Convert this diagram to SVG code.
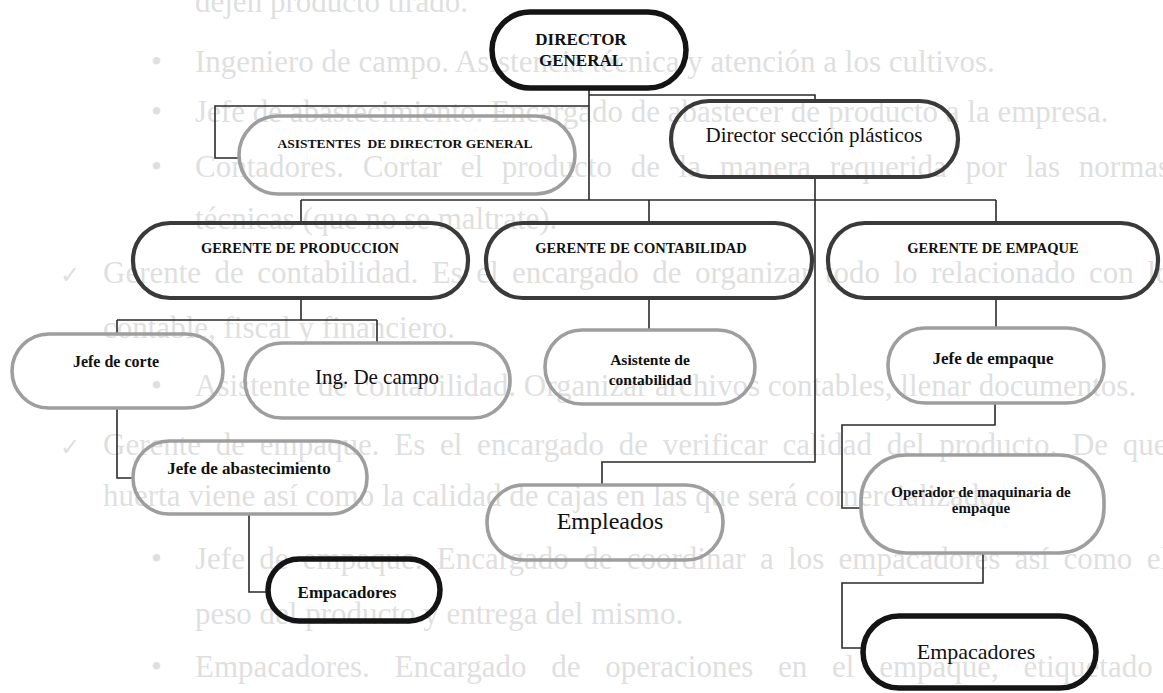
<svg xmlns="http://www.w3.org/2000/svg" width="1163" height="693" viewBox="0 0 1163 693">
<style>
.bg{font-family:"Liberation Serif","Times New Roman",serif;font-size:31px;fill:#dfdfdf}
.ck{font-family:"DejaVu Sans",sans-serif;font-size:24px;fill:#dfdfdf}
.lbl{font-family:"Liberation Serif","Times New Roman",serif;fill:#111;text-anchor:middle}
.b{font-weight:bold}
.thick{fill:none;stroke:#141414;stroke-width:5.5}
.mid{fill:none;stroke:#3a3a3a;stroke-width:4.2}
.light{fill:none;stroke:#9e9e9e;stroke-width:3.6}
#connectors path{fill:none;stroke:#2a2a2a;stroke-width:1.6}
</style>
<rect width="1163" height="693" fill="#ffffff"/>
<g id="background-text">
<text class="bg" x="195" y="12">dejen producto tirado.</text>
<text class="bg" x="151" y="72">•</text><text class="bg" x="195" y="72">Ingeniero de campo. Asistencia técnica y atención a los cultivos.</text>
<text class="bg" x="151" y="122">•</text><text class="bg" x="195" y="122">Jefe de abastecimiento. Encargado de abastecer de producto a la empresa.</text>
<text class="bg" x="151" y="177">•</text><text class="bg" x="195" y="177" word-spacing="11">Contadores. Cortar el producto de la manera requerida por las normas</text>
<text class="bg" x="195" y="229">técnicas (que no se maltrate).</text>
<text class="ck" x="60" y="283">✓</text><text class="bg" x="103" y="283" word-spacing="5.7">Gerente de contabilidad. Es el encargado de organizar todo lo relacionado con lo</text>
<text class="bg" x="103" y="338">contable, fiscal y financiero.</text>
<text class="bg" x="151" y="396">•</text><text class="bg" x="195" y="396">Asistente de contabilidad. Organizar archivos contables, llenar documentos.</text>
<text class="ck" x="60" y="455">✓</text><text class="bg" x="103" y="455" word-spacing="7">Gerente de empaque. Es el encargado de verificar calidad del producto. De que</text>
<text class="bg" x="103" y="506">huerta viene así como la calidad de cajas en las que será comercializado.</text>
<text class="bg" x="151" y="569">•</text><text class="bg" x="195" y="569" word-spacing="6.6">Jefe de empaque. Encargado de coordinar a los empacadores así como el</text>
<text class="bg" x="195" y="624">peso del producto y entrega del mismo.</text>
<text class="bg" x="151" y="677">•</text><text class="bg" x="195" y="677" word-spacing="17">Empacadores. Encargado de operaciones en el empaque, etiquetado</text>
</g>
<g id="connectors">
<path d="M589,88 V200"/>
<path d="M589,95 H815 V101"/>
<path d="M589,106 H215 V158 H239"/>
<path d="M301,200 H996"/>
<path d="M301,200 V223 M649,200 V223 M996,200 V223"/>
<path d="M815,177 V462 H602 V485"/>
<path d="M301,298 V320 M117,320 H377 M117,320 V334 M377,320 V343"/>
<path d="M117,408 V478 H133"/>
<path d="M249,514 V592 H268"/>
<path d="M649,298 V330"/>
<path d="M996,298 V328"/>
<path d="M995,403 V425 H842 V508 H861"/>
<path d="M983,553 V583 H842 V648 H863"/>
</g>
<g id="director-general"><rect class="thick" x="492" y="12" width="194" height="76" rx="38"/><text class="lbl b" font-size="17" x="581" y="45">DIRECTOR</text><text class="lbl b" font-size="17" x="581" y="66">GENERAL</text></g>
<g id="asistentes-director"><rect class="light" x="239" y="116" width="336" height="78" rx="39"/><text class="lbl b" font-size="13.5" x="405" y="148" xml:space="preserve">ASISTENTES  DE DIRECTOR GENERAL</text></g>
<g id="director-plasticos"><rect class="mid" x="671" y="101" width="287" height="76" rx="38"/><text class="lbl" font-size="21" x="814" y="142">Director sección plásticos</text></g>
<g id="gerente-produccion"><rect class="mid" x="133" y="223" width="335" height="75" rx="37"/><text class="lbl b" font-size="14.5" x="300" y="253">GERENTE DE PRODUCCION</text></g>
<g id="gerente-contabilidad"><rect class="mid" x="486" y="223" width="326" height="75" rx="37"/><text class="lbl b" font-size="14.5" x="641" y="253">GERENTE DE CONTABILIDAD</text></g>
<g id="gerente-empaque"><rect class="mid" x="828" y="223" width="330" height="75" rx="37"/><text class="lbl b" font-size="14.5" x="993" y="253">GERENTE DE EMPAQUE</text></g>
<g id="jefe-corte"><rect class="light" x="12" y="334" width="211" height="74" rx="37"/><text class="lbl b" font-size="16" x="116" y="367">Jefe de corte</text></g>
<g id="ing-campo"><rect class="light" x="245" y="343" width="265" height="75" rx="37"/><text class="lbl" font-size="21" x="377" y="384">Ing. De campo</text></g>
<g id="jefe-abastecimiento"><rect class="light" x="133" y="441" width="234" height="73" rx="36"/><text class="lbl b" font-size="17" x="249" y="474">Jefe de abastecimiento</text></g>
<g id="empacadores-produccion"><rect class="thick" x="268" y="559" width="172" height="62" rx="31"/><text class="lbl b" font-size="17" x="347" y="598">Empacadores</text></g>
<g id="asistente-contabilidad"><rect class="light" x="545" y="330" width="210" height="74" rx="37"/><text class="lbl b" font-size="15.5" x="650" y="365">Asistente de</text><text class="lbl b" font-size="15.5" x="650" y="385">contabilidad</text></g>
<g id="empleados"><rect class="light" x="487" y="485" width="236" height="75" rx="37"/><text class="lbl" font-size="24" x="610" y="529">Empleados</text></g>
<g id="jefe-empaque"><rect class="light" x="888" y="328" width="216" height="75" rx="37"/><text class="lbl b" font-size="17" x="993" y="364">Jefe de empaque</text></g>
<g id="operador-maquinaria"><rect class="light" x="861" y="455" width="243" height="98" rx="45"/><text class="lbl b" font-size="15" x="981" y="497">Operador de maquinaria de</text><text class="lbl b" font-size="15" x="981" y="513">empaque</text></g>
<g id="empacadores-empaque"><rect class="thick" x="863" y="616" width="233" height="72" rx="36"/><text class="lbl" font-size="22" x="976" y="659">Empacadores</text></g>
</svg>
